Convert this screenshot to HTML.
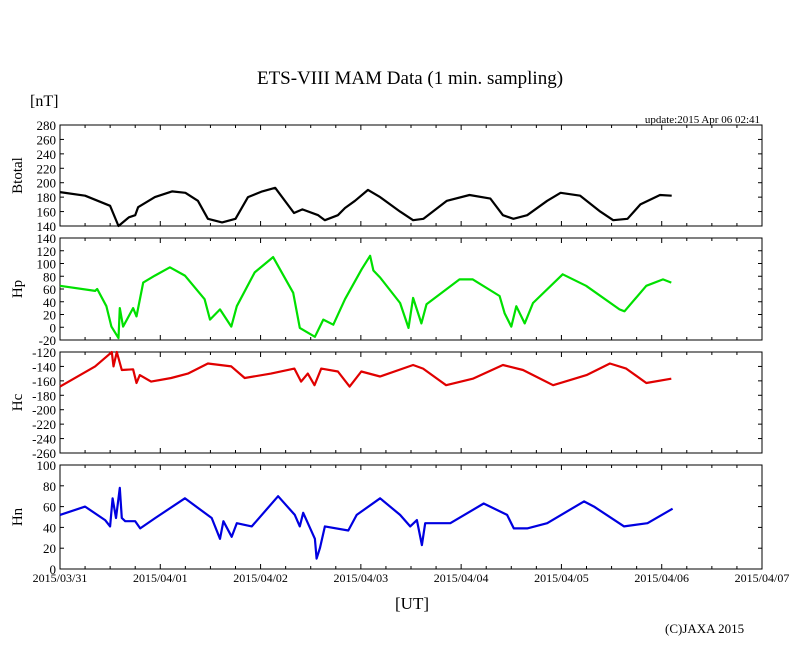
<!DOCTYPE html>
<html><head><meta charset="utf-8">
<style>
html,body{margin:0;padding:0;background:#fff;}
svg{display:block;font-family:"Liberation Serif",serif;}
</style></head>
<body>
<svg id="chart" width="810" height="655" viewBox="0 0 810 655" xmlns="http://www.w3.org/2000/svg">
<text x="410" y="84" font-size="19" text-anchor="middle">ETS-VIII MAM Data (1 min. sampling)</text>
<text x="30" y="106" font-size="16">[nT]</text>
<text x="760" y="123" font-size="11" text-anchor="end">update:2015 Apr 06 02:41</text>
<text x="412" y="609" font-size="17" text-anchor="middle">[UT]</text>
<text x="665" y="633" font-size="13">(C)JAXA 2015</text>
<g id="plots"></g>
</svg>
<script>
const xTickLabels = ["2015/03/31","2015/04/01","2015/04/02","2015/04/03","2015/04/04","2015/04/05","2015/04/06","2015/04/07"];
const btTime = [0,6,12,14,16.5,18,18.7,22.7,26.8,30,33,35.4,38.8,42,45,48.4,51.5,56,58,61.8,63.4,66.5,68.2,70.6,73.7,76.6,81.4,84.5,87,92.6,98,103,106,108.5,111.8,116.6,119.8,124.5,129.3,132.4,135.8,138.9,143.6,146.4];
const btVals = [187,182,168,140,152,155,166,180,188,186,175,150,145,150,180,188,193,158,163,155,148,155,165,175,190,180,160,148,150,175,183,178,155,150,155,175,186,182,160,148,150,170,183,182];
const hpTime = [0,8.4,8.9,11.1,12.3,14,14.3,15.1,17.5,18.3,19.9,22.7,26.3,29.9,34.6,35.9,38.3,41,42.3,46.6,51,55.8,57.4,61,63,65.4,68.2,72.2,74.2,75,76.6,81.4,83.4,84.5,86.5,87.7,95.6,98.8,105.2,106.4,108,109.2,111.2,113.2,120.3,125.9,133.9,135.1,140.3,144.3,146.3];
const hpVals = [65,57,60,33,1,-17,30,1,30,17,70,81,94,81,44,12,28,1,33,86,110,54,-1,-15,12,4,44,91,112,89,78,38,-1,46,6,36,75,75,49,22,1,33,6,38,83,65,28,25,65,75,70];
const hcTime = [0,8.4,11.6,12.4,12.8,13.6,14.8,17.5,18.3,19.1,21.8,26.6,30.6,35.4,41,44.2,50.5,56.1,57.7,59.3,60.9,62.5,66.5,69.3,72.1,76.6,84.5,86.9,92.4,98.8,106,110.8,118,126,131.6,135.5,140.3,146.3];
const hcVals = [-168,-140,-124,-120,-140,-120,-145,-144,-163,-152,-161,-156,-150,-136,-140,-156,-150,-143,-161,-150,-166,-143,-147,-168,-147,-154,-138,-143,-166,-157,-138,-145,-166,-152,-136,-143,-163,-157];
const hnTime = [0,6,10.8,12,12.6,13.4,14.3,14.8,15.6,18,19.2,22.8,29.9,36.3,38.3,39.1,41.1,42.3,45.9,52.2,56.2,57.4,58.2,61,61.4,62.2,63.4,69,71,76.6,81.4,83.8,85.4,86.6,87.4,93.4,101.4,107,108.6,111.8,116.6,125.4,127.8,135,140.6,146.6];
const hnVals = [52,60,47,41,68,49,78,49,46,46,39,49,68,49,29,46,31,44,41,70,52,41,54,29,10,20,41,37,52,68,52,41,47,23,44,44,63,52,39,39,44,65,60,41,44,58];
const btTicks = [140,160,180,200,220,240,260,280];
const hpTicks = [-20,0,20,40,60,80,100,120,140];
const hcTicks = [-260,-240,-220,-200,-180,-160,-140,-120];
const hnTicks = [0,20,40,60,80,100];

const NS = "http://www.w3.org/2000/svg";
const L = 60, R = 762, HOURS = 168;
const xs = h => L + (R - L) * h / HOURS;
const g = document.getElementById('plots');
function mk(tag, attrs){const e=document.createElementNS(NS,tag);for(const k in attrs)e.setAttribute(k,attrs[k]);return e;}

const panels = [
 {name:'btotal', label:'Btotal', top:125, bot:226, min:140, max:280, ticks:btTicks, t:btTime, v:btVals, color:'#000'},
 {name:'hp', label:'Hp', top:238, bot:340, min:-20, max:140, ticks:hpTicks, t:hpTime, v:hpVals, color:'#00e000'},
 {name:'hc', label:'Hc', top:352, bot:453, min:-260, max:-120, ticks:hcTicks, t:hcTime, v:hcVals, color:'#e00000'},
 {name:'hn', label:'Hn', top:465, bot:569, min:0, max:100, ticks:hnTicks, t:hnTime, v:hnVals, color:'#0000e0'}
];

panels.forEach((p, pi) => {
  const ys = v => p.bot - (p.bot - p.top) * (v - p.min) / (p.max - p.min);
  const pg = mk('g',{});
  
  
  g.appendChild(pg);
  const frame = mk('rect',{x:L,y:p.top,width:R-L,height:p.bot-p.top,fill:'none',stroke:'#000','stroke-width':1});
  
  
  pg.appendChild(frame);
  p.ticks.forEach(tv => {
    const y = ys(tv);
    pg.appendChild(mk('line',{x1:L,y1:y,x2:L+4,y2:y,stroke:'#000'}));
    pg.appendChild(mk('line',{x1:R-4,y1:y,x2:R,y2:y,stroke:'#000'}));
    const t = mk('text',{x:L-4,y:y+5,'font-size':13,'text-anchor':'end'});
    t.textContent = tv;
    
    
    pg.appendChild(t);
  });
  for (let h = 6; h < HOURS; h += 6) {
    const x = xs(h), len = h % 24 === 0 ? 5 : 3;
    pg.appendChild(mk('line',{x1:x,y1:p.bot,x2:x,y2:p.bot-len,stroke:'#000'}));
    pg.appendChild(mk('line',{x1:x,y1:p.top,x2:x,y2:p.top+len,stroke:'#000'}));
  }
  const yl = mk('text',{x:0,y:0,'font-size':15,'text-anchor':'middle',transform:`translate(22,${(p.top+p.bot)/2}) rotate(-90)`});
  yl.textContent = p.label;
  
  
  pg.appendChild(yl);
  const d = p.t.map((h,i)=>(i?'L':'M')+xs(h).toFixed(1)+','+ys(Math.max(p.min,Math.min(p.max,p.v[i]))).toFixed(1)).join('');
  const line = mk('path',{d:d,fill:'none',stroke:p.color,'stroke-width':2.2,'stroke-linejoin':'round'});
  
  
  pg.appendChild(line);
});

xTickLabels.forEach((lab, i) => {
  const t = mk('text',{x:xs(i*24),y:582,'font-size':12,'text-anchor':'middle'});
  t.textContent = lab;
  
  
  g.appendChild(t);
});
</script>
</body></html>
